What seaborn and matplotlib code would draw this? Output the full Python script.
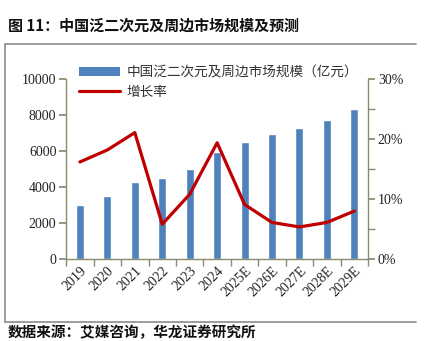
import numpy as np
import pandas as pd
import matplotlib
matplotlib.use("Agg")
import matplotlib.pyplot as plt
from matplotlib.ticker import MultipleLocator, FuncFormatter
from matplotlib.lines import Line2D
from matplotlib.patches import Patch
import seaborn as sns

years = ["2019", "2020", "2021", "2022", "2023", "2024",
         "2025E", "2026E", "2027E", "2028E", "2029E"]
market_size = [2980, 3510, 4270, 4500, 5010, 5960, 6520, 6930, 7280, 7730, 8340]
growth_pct = [16.2, 18.2, 21.1, 5.8, 10.8, 19.4, 9.1, 6.1, 5.35, 6.1, 8.0]

title_text = "图 11：中国泛二次元及周边市场规模及预测"
source_text = "数据来源：艾媒咨询，华龙证券研究所"
bar_label = "中国泛二次元及周边市场规模（亿元）"
line_label = "增长率"

sns.set_theme(style="white")
plt.rcParams["font.family"] = ["Noto Sans CJK SC", "DejaVu Sans"]

bar_color = "#4F81BD"
line_color = "#C00000"
spine_color = "#8a8a6e"
serif = ["Liberation Serif", "DejaVu Serif"]

df = pd.DataFrame({"year": years, "size": market_size, "growth": growth_pct})

fig = plt.figure(figsize=(4.27, 3.41), dpi=100)
ax = fig.add_axes([0.155, 0.2405, 0.707, 0.527])

sns.barplot(data=df, x="year", y="size", ax=ax, color=bar_color,
            width=0.29, saturation=1)
ax.set_ylim(0, 10000)
ax.set_xlim(-0.48, 10.43)
ax.yaxis.set_major_locator(MultipleLocator(2000))
ax.set_xlabel("")
ax.set_ylabel("")

ax2 = ax.twinx()
sns.lineplot(x=np.arange(len(years)), y=growth_pct, ax=ax2, color=line_color,
             linewidth=2.3, sort=False)
ax2.set_ylim(0, 30)
ax2.yaxis.set_major_locator(MultipleLocator(10))
ax2.yaxis.set_minor_locator(MultipleLocator(5))
ax2.yaxis.set_major_formatter(FuncFormatter(lambda v, p: f"{v:.0f}%"))
ax2.set_xlim(-0.48, 10.43)

for a in (ax, ax2):
    for s in a.spines.values():
        s.set_color(spine_color)
        s.set_linewidth(1.0)
    a.spines["top"].set_visible(False)
    a.grid(False)

ax.spines["right"].set_visible(False)
ax2.spines["left"].set_visible(False)
ax2.spines["bottom"].set_visible(False)

# x ticks at category boundaries, labels at centers
ax.set_xticks(np.arange(len(years)))
ax.set_xticklabels(years, rotation=45, ha="right", rotation_mode="anchor",
                   fontsize=10, family=serif, color="#222222")
ax.tick_params(axis="x", which="major", length=0, pad=4)
ax.set_xticks(np.arange(-0.5, len(years) + 0.5, 1), minor=True)
ax.tick_params(axis="x", which="minor", length=5, color=spine_color,
               direction="out", bottom=True)

ax.tick_params(axis="y", which="major", length=5, color=spine_color,
               direction="out", left=True, labelsize=10, pad=2)
for lbl in ax.get_yticklabels():
    lbl.set_family(serif)
    lbl.set_color("#222222")

ax2.tick_params(axis="y", which="both", length=5, color=spine_color,
                direction="out", right=True, labelsize=10, pad=2)
for lbl in ax2.get_yticklabels():
    lbl.set_family(serif)
    lbl.set_color("#222222")

handles = [Patch(facecolor=bar_color, edgecolor="none"),
           Line2D([0], [0], color=line_color, linewidth=2.3)]
fig.legend(handles, [bar_label, line_label], loc="upper left",
           bbox_to_anchor=(0.186, 0.808), frameon=False, fontsize=9.8,
           handlelength=3.0, handleheight=0.6, handletextpad=0.45,
           labelspacing=0.4, borderaxespad=0, borderpad=0,
           labelcolor="#333333")

fig.text(0.019, 1 - 26 / 341, title_text, fontsize=10.8, fontweight="bold",
         ha="left", va="center", color="#111111")

frame_color = "#8c8c8c"
fig.add_artist(Line2D([0.012, 0.975], [1 - 44 / 341, 1 - 44 / 341],
                      transform=fig.transFigure, color=frame_color, lw=1.2))
fig.add_artist(Line2D([0.012, 0.975], [1 - 322 / 341, 1 - 322 / 341],
                      transform=fig.transFigure, color=frame_color, lw=1.2))
fig.add_artist(Line2D([0.012, 0.012], [1 - 44 / 341, 1 - 322 / 341],
                      transform=fig.transFigure, color=frame_color, lw=1.2))

fig.text(0.019, 0.004, source_text, fontsize=10.5, fontweight="bold",
         ha="left", va="bottom", color="#111111")

fig.savefig("out.png", dpi=100)
